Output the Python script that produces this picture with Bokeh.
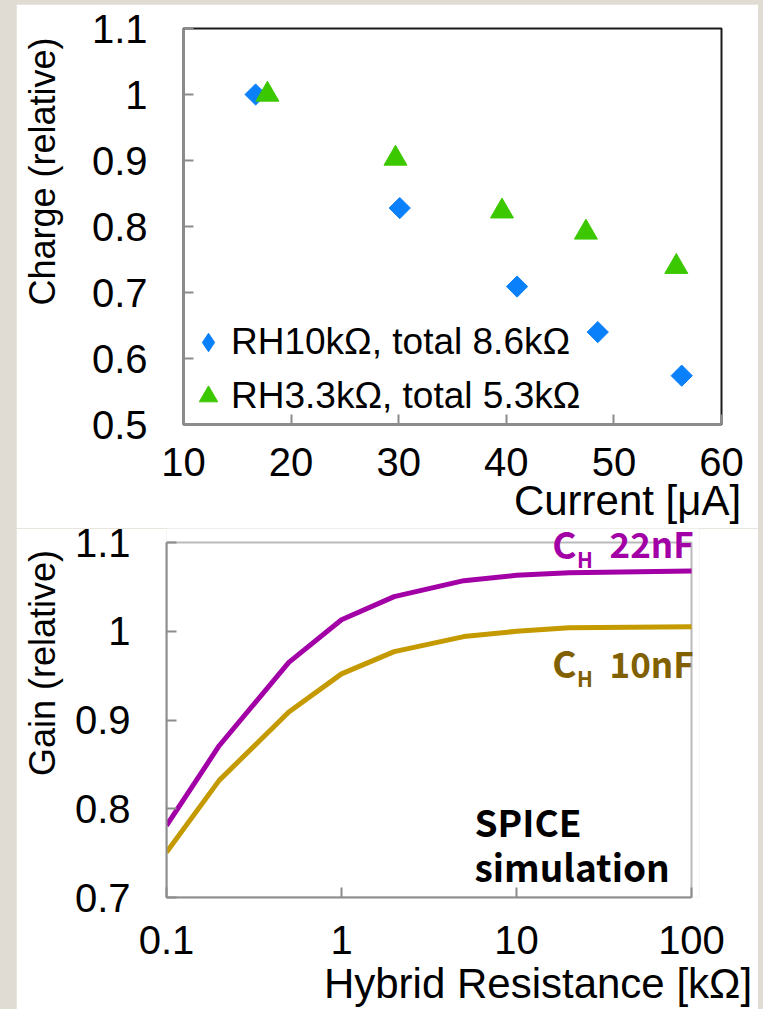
import math
from bokeh.plotting import figure
from bokeh.models import (Range1d, FixedTicker, CustomJSTickFormatter, Label, Spacer,
                          Legend, LegendItem, BoxAnnotation)
from bokeh.layouts import row, column
from bokeh.embed import file_html
from bokeh.resources import INLINE

# ---------------- data ----------------
current_rh10 = [16.7, 30.1, 41.0, 48.5, 56.3]
charge_rh10 = [1.000, 0.828, 0.709, 0.640, 0.574]
current_rh33 = [17.8, 29.7, 39.6, 47.4, 55.8]
charge_rh33 = [1.000, 0.903, 0.823, 0.791, 0.739]
legend_rh10 = "RH10kΩ, total 8.6kΩ"
legend_rh33 = "RH3.3kΩ, total 5.3kΩ"

resistance = [0.1, 0.2, 0.5, 1, 2, 5, 10, 20, 100]
gain_22nf = [0.781, 0.871, 0.965, 1.013, 1.039, 1.057, 1.063, 1.066, 1.068]
gain_10nf = [0.751, 0.832, 0.909, 0.952, 0.977, 0.994, 1.000, 1.004, 1.005]

top_xticks = [10, 20, 30, 40, 50, 60]
top_yticks = [0.5, 0.6, 0.7, 0.8, 0.9, 1, 1.1]
bot_xticks = [0.1, 1, 10, 100]
bot_yticks = [0.7, 0.8, 0.9, 1, 1.1]

BG = "#E0DCD4"
BLUE = "#0A80FA"
GREEN = "#3CC800"
PURPLE = "#A200A6"
GOLD = "#C49A00"
BROWN = "#806000"
AXIS_GRAY = "#8C8C8C"
FONT = "Liberation Sans"
JFONT = "Noto Sans CJK JP"
NB = "\u00a0"

fmt = CustomJSTickFormatter(code="return String(tick)")


def style(p, xticks, yticks, xstand, ystand):
    p.grid.visible = False
    p.outline_line_color = "#1A1A1A"
    p.outline_line_width = 2
    p.background_fill_color = "white"
    p.border_fill_color = "white"
    for ax in (p.xaxis, p.yaxis):
        ax.axis_line_color = AXIS_GRAY
        ax.axis_line_width = 2
        ax.major_tick_line_color = AXIS_GRAY
        ax.major_tick_line_width = 2
        ax.major_tick_in = 10
        ax.major_tick_out = 0
        ax.minor_tick_line_color = None
        ax.major_label_text_font = FONT
        ax.major_label_text_font_size = "40px"
        ax.major_label_text_color = "black"
        ax.axis_label_text_font = FONT
        ax.axis_label_text_font_style = "normal"
        ax.axis_label_text_color = "black"
        ax.formatter = fmt
    p.xaxis.ticker = FixedTicker(ticks=xticks)
    p.yaxis.ticker = FixedTicker(ticks=yticks)
    p.xaxis.major_label_standoff = xstand
    p.yaxis.major_label_standoff = ystand
    p.xaxis.axis_label_text_font_size = "42px"
    p.yaxis.axis_label_text_font_size = "36px"


# ---------------- top figure ----------------
p1 = figure(frame_width=538, frame_height=396, output_backend="svg", toolbar_location=None,
            x_range=Range1d(10, 60), y_range=Range1d(0.5, 1.1),
            min_border_left=167, min_border_right=37, min_border_top=24, min_border_bottom=104)
style(p1, top_xticks, top_yticks, 23, 36)
p1.xaxis.axis_label = NB * 30 + "Current [μA]"
p1.xaxis.axis_label_standoff = -2
p1.yaxis.axis_label = NB * 11 + "Charge (relative)"
p1.yaxis.axis_label_standoff = 26

p1.scatter(current_rh10, charge_rh10, marker="square", angle=math.pi / 4, size=15,
           fill_color=BLUE, line_color=BLUE)
p1.scatter(current_rh33, charge_rh33, marker="triangle", size=23,
           fill_color=GREEN, line_color=GREEN)

# legend keys: renderers holding a single NaN point, used only for the legend glyph
nan = float("nan")
k1 = p1.scatter([nan], [nan], marker="diamond", fill_color=BLUE, line_color=BLUE)
k2 = p1.scatter([nan], [nan], marker="triangle", fill_color=GREEN, line_color=GREEN)
lg = Legend(items=[LegendItem(label=legend_rh10, renderers=[k1]),
                   LegendItem(label=legend_rh33, renderers=[k2])],
            location=(2, 1), padding=0, spacing=0, margin=0,
            glyph_width=46, glyph_height=54, label_height=54, label_standoff=0,
            border_line_alpha=0, background_fill_alpha=0,
            label_text_font=FONT, label_text_font_size="37px",
            label_text_baseline="middle", label_text_color="black")
p1.add_layout(lg)

# ---------------- bottom figure ----------------
# The frame is a little taller / wider than the drawn box so the
# in-plot notes near the top-right corner are not clipped.
p2 = figure(frame_width=533, frame_height=369, output_backend="svg", toolbar_location=None,
            x_axis_type="log", x_range=Range1d(0.1, 111.1), y_range=Range1d(0.7, 1.1158),
            min_border_left=150, min_border_right=59, min_border_top=0, min_border_bottom=120)
style(p2, bot_xticks, bot_yticks, 28, 36)
p2.outline_line_color = None
p2.xaxis.bounds = (bot_xticks[0], bot_xticks[-1])
p2.yaxis.bounds = (bot_yticks[0], bot_yticks[-1])
p2.add_layout(BoxAnnotation(left=bot_xticks[0], right=bot_xticks[-1],
                            bottom=bot_yticks[0], top=bot_yticks[-1],
                            fill_alpha=0, line_color="#1A1A1A", line_width=2,
                            level="underlay"))
p2.xaxis.axis_label = NB * 18 + "Hybrid Resistance [kΩ]"
p2.xaxis.axis_label_standoff = 3
p2.yaxis.axis_label = NB * 10 + "Gain (relative)"
p2.yaxis.axis_label_standoff = 9

p2.line(resistance, gain_22nf, line_color=PURPLE, line_width=5)
p2.line(resistance, gain_10nf, line_color=GOLD, line_width=5)


def ann(p, x, y, text, size, color):
    p.add_layout(Label(x=x, y=y, text=text, text_align="left", text_baseline="alphabetic",
                       text_font=JFONT, text_font_style="bold", level="overlay",
                       text_font_size=size, text_color=color))


ann(p2, 16.0, 1.0997, "C", "37px", PURPLE)
ann(p2, 22.2, 1.0818, "H", "21px", PURPLE)
ann(p2, 34.0, 1.0997, "22nF", "35px", PURPLE)
ann(p2, 16.0, 0.9650, "C", "37px", BROWN)
ann(p2, 22.2, 0.9468, "H", "21px", BROWN)
ann(p2, 34.0, 0.9650, "10nF", "35px", BROWN)
ann(p2, 5.75, 0.7867, "SPICE", "37px", "black")
ann(p2, 5.75, 0.7360, "simulation", "37px", "black")

# two separate roots, so the two frames are not aligned to each other
top_root = row(Spacer(width=16, height=528), column(Spacer(width=742, height=4), p1))
bottom_root = row(Spacer(width=16, height=489), p2)

html = file_html([top_root, bottom_root], INLINE, title="chart")
html = html.replace("</head>",
                    "<style>html,body{background:%s;margin:0;overflow:hidden;}</style></head>" % BG, 1)
open("out.html", "w").write(html)
